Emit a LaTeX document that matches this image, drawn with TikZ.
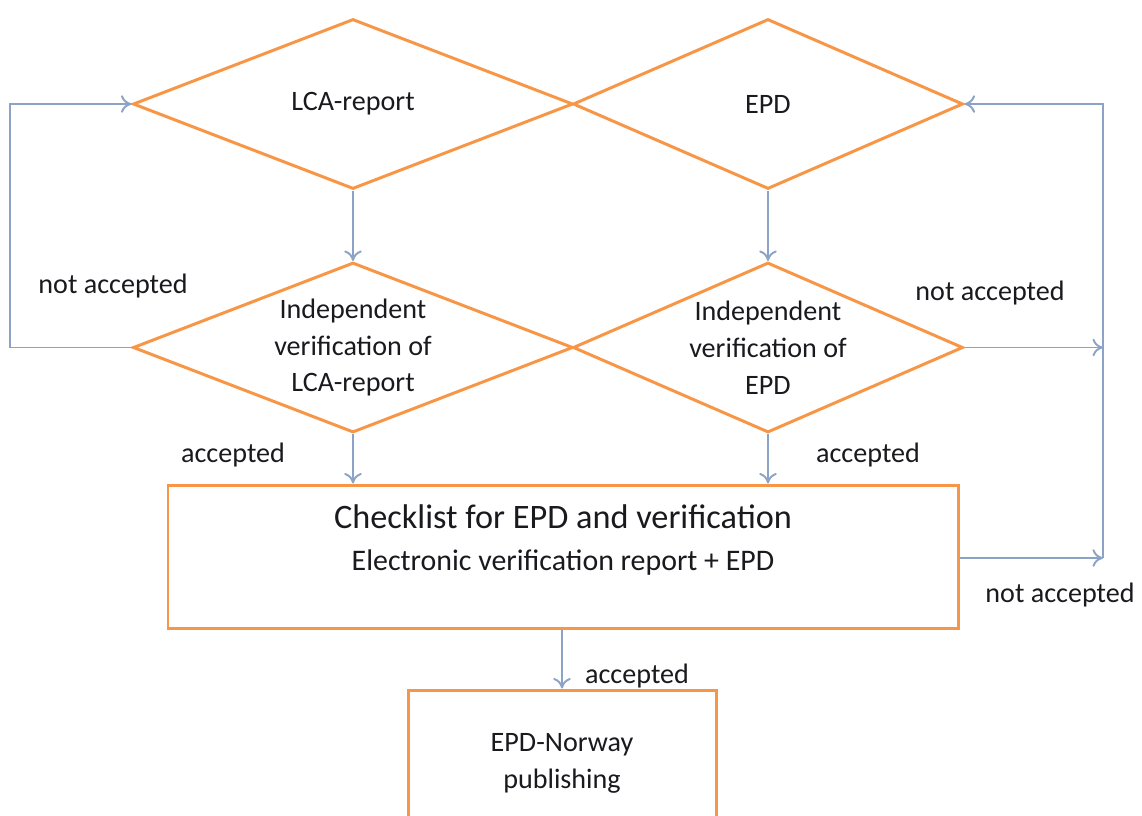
\documentclass[tikz,border=0pt]{standalone}
\usepackage{fontspec}
\setmainfont{Carlito}
\usetikzlibrary{arrows.meta,positioning,shapes.geometric}

\definecolor{boxorange}{RGB}{247,150,70}
\definecolor{linkblue}{RGB}{140,162,198}
\definecolor{textdark}{RGB}{25,25,30}

\begin{document}
\begin{tikzpicture}[
decision/.style={diamond,draw=boxorange,line width=1.7pt,minimum width=8.8cm,minimum height=3.4cm,inner sep=0pt},
dtext/.style={font=\fontsize{16}{21}\selectfont,align=center,text=textdark},
process/.style={rectangle,draw=boxorange,line width=1.7pt},
arrowlabel/.style={font=\fontsize{16}{19}\selectfont,text=textdark,inner sep=1pt},
arrow/.style={-{To[length=6pt,width=10pt]},draw=linkblue,line width=1.1pt} ]

\clip (0,0) rectangle (22.84,-16.30);

\node[decision, label={[dtext]center:LCA-report}] (lca) at (7.06,-2.08) {};

\node[decision, minimum width=7.8cm, label={[dtext]center:EPD}] (epd) at (15.36,-2.08) {};

\node[decision, label={[dtext]center:{Independent\\verification of\\LCA-report}}] (lcaver) at (7.06,-6.95) {};

\node[decision, minimum width=7.8cm, label={[dtext]center:{Independent\\verification of\\EPD}}] (epdver) at (15.36,-6.95) {};

\node[process, minimum width=15.8cm, minimum height=2.86cm] (check) at (11.26,-11.13) {};
\node[font=\fontsize{19.5}{23}\selectfont, text=textdark] (checktitle) at ([yshift=-0.66cm]check.north) {Checklist for EPD and verification};
\node[dtext, font=\fontsize{17}{21}\selectfont] (checksub) at ([yshift=-1.58cm]check.north) {Electronic verification report + EPD};

\node[process, dtext, minimum width=6.16cm, minimum height=2.92cm] (pub) at (11.24,-15.26) {EPD-Norway\\publishing};

\coordinate (lturn) at (0.2,-6.95);
\coordinate (rturn) at (22.06,-11.16);

\draw[arrow] (lca) -- (lcaver);
\draw[arrow] (epd) -- (epdver);
\draw[arrow] (lcaver.south) -- (lcaver.south |- check.north);
\draw[arrow] (epdver.south) -- (epdver.south |- check.north);
\draw[arrow] (pub.north |- check.south) -- (pub.north);

\draw[arrow] (lcaver.west) -- (lturn) |- (lca.west);
\draw[arrow] (epdver.east) -- (epdver.east -| rturn);
\draw[arrow] (check.east |- rturn) -- (rturn);
\draw[arrow] (rturn) |- (epd.east);

\node[arrowlabel] (na1) at (2.26,-5.72) {not accepted};
\node[arrowlabel] (na2) at (19.80,-5.86) {not accepted};
\node[arrowlabel] (na3) at (21.20,-11.90) {not accepted};
\node[arrowlabel] (ac1) at (4.66,-9.10) {accepted};
\node[arrowlabel] (ac2) at (17.36,-9.10) {accepted};
\node[arrowlabel] (ac3) at (12.74,-13.52) {accepted};

\end{tikzpicture}
\end{document}
